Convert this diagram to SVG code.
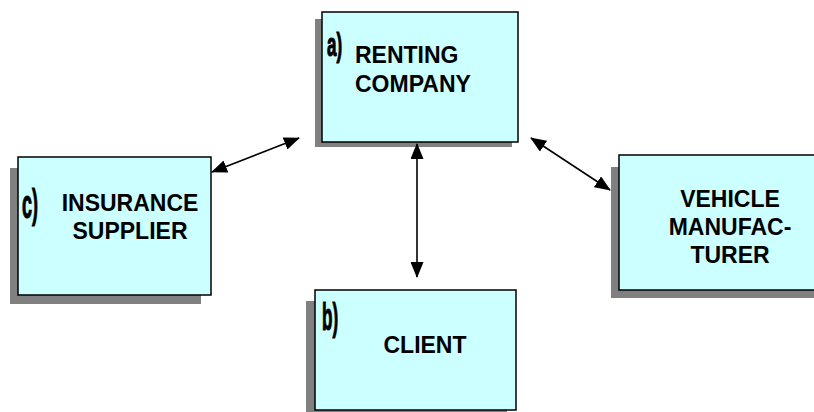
<svg xmlns="http://www.w3.org/2000/svg" width="814" height="412" viewBox="0 0 814 412">
  <defs>
    <style>
      .shadow { fill: #808080; }
      .box { fill: #CCFFFF; stroke: #000; stroke-width: 1.5; }
      .name { font-family: "Liberation Sans", Arial, sans-serif; font-weight: bold; font-size: 23px; fill: #000; }
      .tag { font-family: "Liberation Sans", Arial, sans-serif; font-weight: bold; fill: #000; stroke: #000; stroke-width: 1.2; }
      .link { stroke: #000; stroke-width: 1.6; fill: none; marker-start: url(#head); marker-end: url(#head); }
    </style>
    <marker id="head" viewBox="0 0 16 13" refX="15" refY="6.5" markerWidth="16" markerHeight="13" markerUnits="userSpaceOnUse" orient="auto-start-reverse">
      <path d="M0,0 L16,6.5 L0,13 Z" fill="#000"/>
    </marker>
  </defs>

  <rect width="814" height="412" fill="#fff"/>

  <!-- a) renting company -->
  <g id="renting-company">
    <rect class="shadow" x="315" y="19" width="197" height="128"/>
    <rect class="box" x="322" y="12" width="196" height="130"/>
    <text class="tag" font-size="34" transform="translate(327,56) scale(0.5,1)">a)</text>
    <text class="name" x="355" y="63">RENTING</text>
    <text class="name" x="355" y="92">COMPANY</text>
  </g>

  <!-- c) insurance supplier -->
  <g id="insurance-supplier">
    <rect class="shadow" x="10" y="168" width="191" height="136"/>
    <rect class="box" x="18" y="157" width="193" height="138"/>
    <text class="tag" font-size="40" transform="translate(22,218) scale(0.45,1)">c)</text>
    <text class="name" x="130" y="211" text-anchor="middle">INSURANCE</text>
    <text class="name" x="130" y="239" text-anchor="middle">SUPPLIER</text>
  </g>

  <!-- vehicle manufacturer -->
  <g id="vehicle-manufacturer">
    <rect class="shadow" x="611" y="167" width="210" height="131"/>
    <rect class="box" x="619" y="155" width="210" height="135"/>
    <text class="name" x="730" y="207" text-anchor="middle">VEHICLE</text>
    <text class="name" x="730" y="235" text-anchor="middle">MANUFAC-</text>
    <text class="name" x="730" y="263" text-anchor="middle">TURER</text>
  </g>

  <!-- b) client -->
  <g id="client">
    <rect class="shadow" x="306" y="301" width="201" height="120"/>
    <rect class="box" x="315" y="290" width="201" height="120"/>
    <text class="tag" font-size="38" transform="translate(322,330) scale(0.45,1)">b)</text>
    <text class="name" x="425" y="353" text-anchor="middle">CLIENT</text>
  </g>

  <g id="connectors">
    <line class="link" x1="212" y1="172" x2="299" y2="138"/>
    <line class="link" x1="417" y1="144" x2="417" y2="277"/>
    <line class="link" x1="531" y1="138" x2="610" y2="190"/>
  </g>
</svg>
